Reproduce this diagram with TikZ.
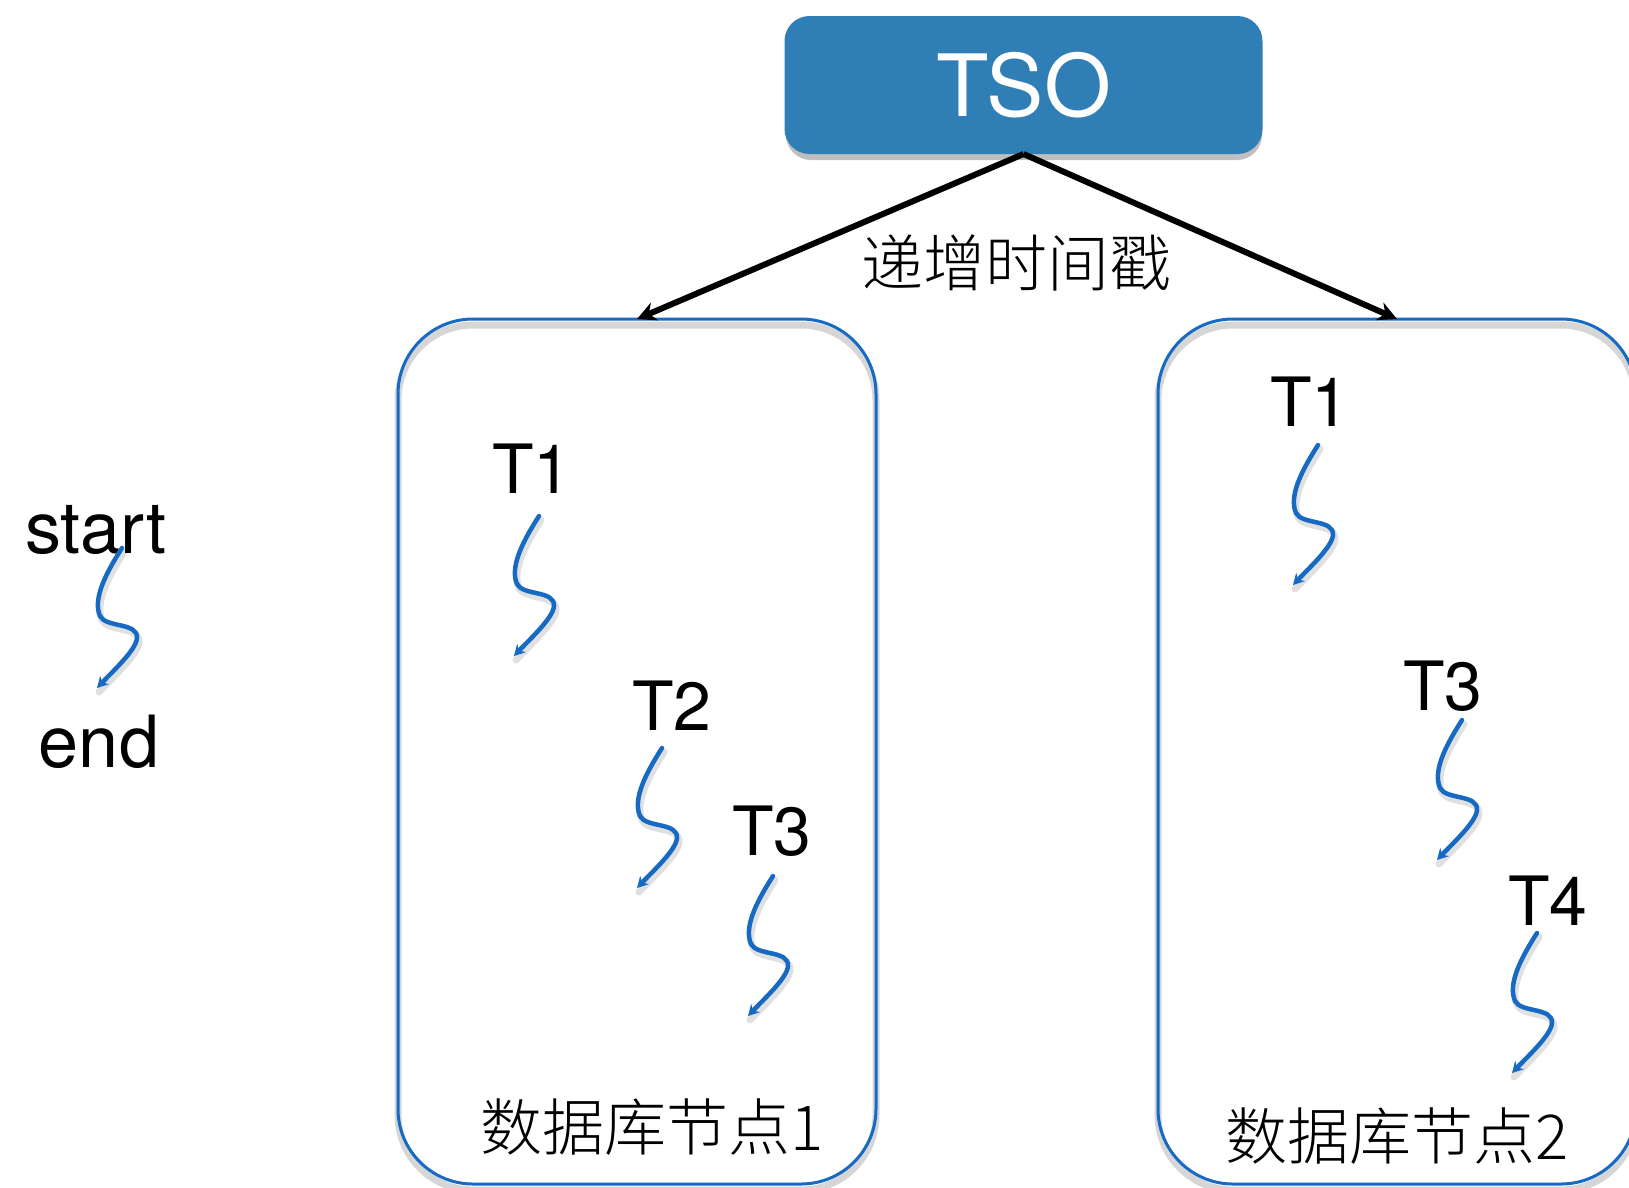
\documentclass[tikz,border=0pt]{standalone}
\usepackage{fontspec}
\setmainfont{TeX Gyre Heros}
\newfontfamily\cjk{Noto Sans CJK SC}[UprightFont={* Light}]
\usetikzlibrary{arrows.meta}
\definecolor{tsoblue}{RGB}{47,126,181}
\definecolor{lineblue}{RGB}{22,106,196}
\tikzset{
  every node/.style={inner sep=0pt, outer sep=0pt},
  dbbox/.style={draw=lineblue, line width=3pt, rounded corners=75pt,
    minimum width=478pt, minimum height=865pt},
  boxshade/.style={draw=black, draw opacity=0.16, line width=7pt, rounded corners=75pt},
  tsobox/.style={fill=tsoblue, rounded corners=25pt, minimum width=478pt,
    minimum height=138pt, text=white, font=\fontsize{86}{100}\selectfont},
  feed/.style={draw=black, line width=6pt, -{Stealth[length=19pt,width=19pt]}},
  squiggle/.style={draw=lineblue, line width=4.5pt, line cap=round,
    -{Stealth[length=11pt,width=12pt]}},
  squigshade/.style={draw=black, draw opacity=0.12, line width=7pt, line cap=round},
  tlabel/.style={font=\fontsize{68}{80}\selectfont},
  wordlabel/.style={font=\fontsize{72}{86}\selectfont},
  cjklabel/.style={font=\cjk\fontsize{62}{74}\selectfont},
  squig/.pic={
    \draw[squigshade, shift={(2,4)}] (0,0) .. controls (-14,22) and (-30,50) .. (-22,68)
      .. controls (-16,80) and (16,74) .. (15,90)
      .. controls (14,102) and (-8,122) .. (-25,140);
    \draw[squiggle] (0,0) .. controls (-14,22) and (-30,50) .. (-22,68)
      .. controls (-16,80) and (16,74) .. (15,90)
      .. controls (14,102) and (-8,122) .. (-25,140);
  }
}
\begin{document}
\begin{tikzpicture}[x=1pt,y=-1pt]
  \useasboundingbox (0,0) rectangle (1629,1187);
  \clip (0,0) rectangle (1629,1187);

  % soft shadows under the boxes
  \fill[black, opacity=0.25, rounded corners=25pt] (786,22) rectangle (1262,160);
  \draw[boxshade] (398,325) rectangle (876,1190);
  \draw[boxshade] (1158,325) rectangle (1636,1190);

  % time service and the two database nodes
  \node[tsobox] (tso) at (1023.5,85) {TSO};
  \node[dbbox] (db1) at (637,751.5) {};
  \node[dbbox] (db2) at (1397,751.5) {};

  \draw[feed] (tso.south) -- (db1.north);
  \draw[feed] (tso.south) -- (db2.north);
  \node[cjklabel] (ts) at (1016,263) {递增时间戳};

  % legend
  \node[wordlabel, anchor=base] (start) at (96,553) {start};
  \node[wordlabel, anchor=base] (end) at (99,767) {end};
  \pic at (122,548) {squig};

  % transactions on node 1
  \node[tlabel] (a1) at (532,469) {T1};
  \node[tlabel] (a2) at (672,706) {T2};
  \node[tlabel] (a3) at (772,831) {T3};
  \pic at (539,516) {squig};
  \pic at (662,748) {squig};
  \pic at (773,876) {squig};
  \node[cjklabel] (n1) at (652,1127) {数据库节点1};

  % transactions on node 2
  \node[tlabel] (b1) at (1310,402) {T1};
  \node[tlabel] (b3) at (1443,686) {T3};
  \node[tlabel] (b4) at (1548,901) {T4};
  \pic at (1318,445) {squig};
  \pic at (1462,720) {squig};
  \pic at (1537,933) {squig};
  \node[cjklabel] (n2) at (1397,1136) {数据库节点2};
\end{tikzpicture}
\end{document}
